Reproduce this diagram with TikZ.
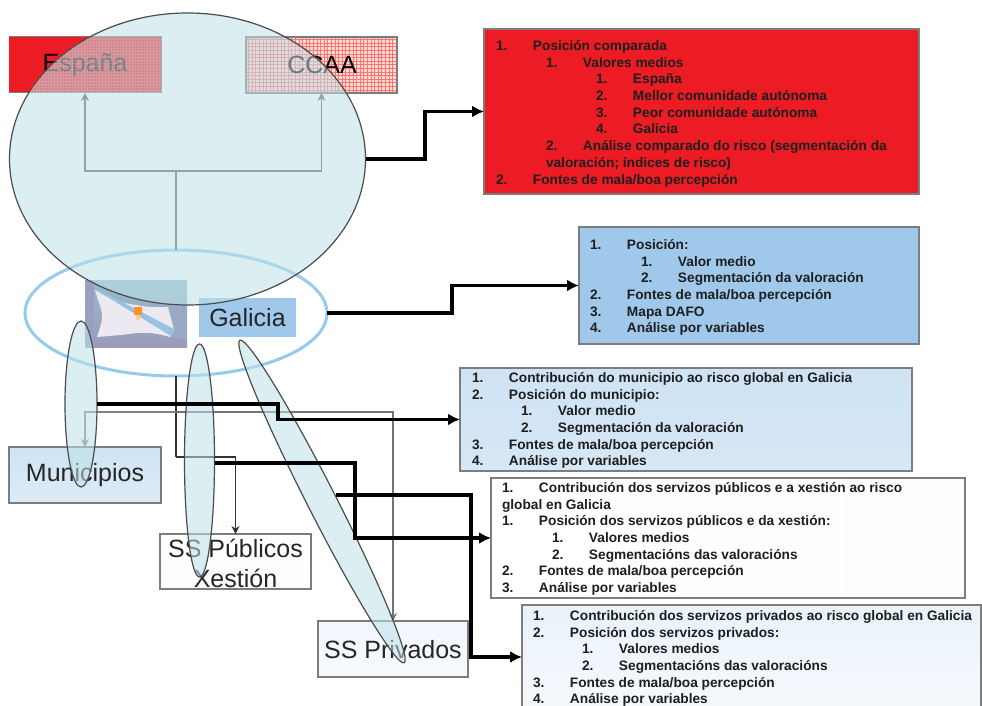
\documentclass[tikz,border=0pt]{standalone}
\usepackage{fontspec}
\setmainfont{Liberation Sans}
\usetikzlibrary{shapes.geometric,arrows.meta}
\definecolor{boxred}{RGB}{237,28,36}
\definecolor{boxblue}{RGB}{160,200,234}
\definecolor{paleblue}{RGB}{207,227,244}
\definecolor{edgegrey}{RGB}{125,125,125}
\definecolor{ringblue}{RGB}{150,203,236}
\definecolor{veil}{RGB}{190,226,233}
\definecolor{inktext}{RGB}{30,30,30}
\definecolor{pinkbox}{RGB}{253,222,212}
\definecolor{flagtop}{RGB}{150,188,205}
\definecolor{flagbottom}{RGB}{155,155,185}
\definecolor{flagband}{RGB}{155,160,190}
\definecolor{flagwhite}{RGB}{236,233,241}
\definecolor{flagstripe}{RGB}{150,195,225}
\newcommand{\itm}[3]{\hspace*{#1pt}\makebox[37pt][l]{#2}#3\strut}
\newcommand{\wrp}[2]{\hspace*{#1pt}#2\strut}
\tikzset{
  boxshape/.style={rectangle,draw=edgegrey,line width=1.4pt,inner sep=0pt,outer sep=0pt,anchor=north west},
  bigtext/.style={text=black!85,font=\fontsize{25}{30}\selectfont,align=center},
  listtext/.style={anchor=north west,inner sep=0pt,outer sep=0pt,align=left,text=inktext,font=\fontsize{13.7}{16.7}\selectfont\bfseries},
  veilshape/.style={ellipse,draw=black!70,line width=1.2pt,fill=veil,fill opacity=.55,inner sep=0pt,outer sep=0pt},
  thinline/.style={line width=1.8pt,draw=black!65,-{Stealth[length=8pt,width=8pt]}},
  thickline/.style={line width=3.6pt,draw=black,-{Latex[length=12pt,width=12pt]}}
}
\begin{document}
\begin{tikzpicture}[x=1pt,y=-1pt]
\useasboundingbox (0,0) rectangle (982,706);
\clip (0,0) rectangle (982,706);
\fill[white] (0,0) rectangle (982,706);

% upper boxes
\node[boxshape,fill=boxred,draw=none,minimum width=152pt,minimum height=56pt] (es) at (9,37) {};
\draw[edgegrey,line width=1pt] (9,37) -- (161,37) -- (161,93) -- (9,93);
\node[boxshape,fill=pinkbox,minimum width=151pt,minimum height=56pt] (cc) at (246,37) {};
\draw[red!55!white,line width=.6pt,step=3.6pt] (246,37) grid (397,93);
\draw[edgegrey,line width=1.2pt] (246,37) rectangle (397,93);
\node[bigtext,text=black] (estxt) at (85,65) {España};
\node[bigtext,text=black] (cctxt) at (322,65) {CCAA};

% list boxes
\node[boxshape,fill=boxred,minimum width=435pt,minimum height=165pt] (redbox) at (484,29) {};
\node[boxshape,fill=boxblue,minimum width=340pt,minimum height=117pt] (bluebox) at (579,227) {};
\node[boxshape,top color=paleblue,bottom color=paleblue!85!white,minimum width=452pt,minimum height=103pt] (munbox) at (460,368) {};
\node[boxshape,left color=white,right color=white!93!paleblue,minimum width=474pt,minimum height=120pt] (pubbox) at (491,478) {};
\node[boxshape,top color=paleblue!45!white,bottom color=paleblue!20!white,minimum width=459pt,minimum height=104pt] (privbox) at (522,605) {};

\node[listtext] (redtxt) at (496,38.8) {%
\itm{0}{1.}{Posición comparada}\\
\itm{50}{1.}{Valores medios}\\
\itm{100}{1.}{España}\\
\itm{100}{2.}{Mellor comunidade autónoma}\\
\itm{100}{3.}{Peor comunidade autónoma}\\
\itm{100}{4.}{Galicia}\\
\itm{50}{2.}{Análise comparado do risco (segmentación da}\\
\wrp{50}{valoración; índices de risco)}\\
\itm{0}{2.}{Fontes de mala/boa percepción}};

\node[listtext] (bluetxt) at (590,237.8) {%
\itm{0}{1.}{Posición:}\\
\itm{51}{1.}{Valor medio}\\
\itm{51}{2.}{Segmentación da valoración}\\
\itm{0}{2.}{Fontes de mala/boa percepción}\\
\itm{0}{3.}{Mapa DAFO}\\
\itm{0}{4.}{Análise por variables}};

\node[listtext] (muntxt) at (472,370.8) {%
\itm{0}{1.}{Contribución do municipio ao risco global en Galicia}\\
\itm{0}{2.}{Posición do municipio:}\\
\itm{49}{1.}{Valor medio}\\
\itm{49}{2.}{Segmentación da valoración}\\
\itm{0}{3.}{Fontes de mala/boa percepción}\\
\itm{0}{4.}{Análise por variables}};

\node[listtext] (pubtxt) at (502,480.8) {%
\itm{0}{1.}{Contribución dos servizos públicos e a xestión ao risco}\\
\wrp{0}{global en Galicia}\\
\itm{0}{1.}{Posición dos servizos públicos e da xestión:}\\
\itm{50}{1.}{Valores medios}\\
\itm{50}{2.}{Segmentacións das valoracións}\\
\itm{0}{2.}{Fontes de mala/boa percepción}\\
\itm{0}{3.}{Análise por variables}};

\node[listtext] (privtxt) at (533,608.8) {%
\itm{0}{1.}{Contribución dos servizos privados ao risco global en Galicia}\\
\itm{0}{2.}{Posición dos servizos privados:}\\
\itm{49}{1.}{Valores medios}\\
\itm{49}{2.}{Segmentacións das valoracións}\\
\itm{0}{3.}{Fontes de mala/boa percepción}\\
\itm{0}{4.}{Análise por variables}};

% flag
\node[boxshape,draw=none,top color=flagtop,bottom color=flagbottom,minimum width=102pt,minimum height=67pt] (flag) at (85,280) {};
\fill[flagband] (85,280) rectangle (94,347);
\fill[flagband!60!flagtop] (168,307) rectangle (187,338);
\fill[flagwhite] (95,290) .. controls (112,300) and (125,304) .. (137,305) .. controls (150,308) and (160,307) .. (168,307) .. controls (170,315) and (172,322) .. (174,330) -- (170,337) .. controls (160,334) and (148,332) .. (137,333) .. controls (122,335) and (110,336) .. (97,337) .. controls (101,325) and (103,318) .. (102,313) .. controls (100,305) and (97,297) .. (95,290) -- cycle;
\fill[flagstripe] (96,290) -- (103,292) -- (174,329) -- (171,336) -- cycle;
\fill[orange!85!white] (134,307) rectangle (142,315);
\fill[orange!40!white] (136,315) rectangle (140,320);

% Galicia label
\node[rectangle,fill=boxblue,inner sep=0pt,outer sep=0pt,minimum width=97pt,minimum height=39pt,text=black!85,font=\fontsize{25}{30}\selectfont] (gal) at (247.5,317.5) {Galicia};
\node[ellipse,draw=ringblue,line width=3pt,inner sep=0pt,outer sep=0pt,minimum width=302pt,minimum height=126pt] (galring) at (176,313) {};

% lower boxes
\node[boxshape,top color=paleblue,bottom color=paleblue!70!white,minimum width=152pt,minimum height=56pt] (mun) at (9,447) {};
\node[bigtext] (muntext) at (85,475) {Municipios};
\node[boxshape,top color=white,bottom color=paleblue!10!white,minimum width=151pt,minimum height=55pt] (pub) at (160,534) {};
\node[bigtext] (pubtext) at (235.5,563) {SS Públicos\\Xestión};
\node[boxshape,top color=paleblue!30!white,bottom color=paleblue!15!white,minimum width=150pt,minimum height=56pt] (priv) at (318,621) {};
\node[bigtext] (privtext) at (393,650) {SS Privados};

% named bends
\coordinate (splitup) at (176,171);
\coordinate (bendred) at (425,135);
\coordinate (bendblue) at (452,300);
\coordinate (bendpub) at (176,457);
\coordinate (greyrun) at (176,412);
\coordinate (bendmun) at (278,412);
\coordinate (bendpubthick) at (355,500);
\coordinate (bendprivthick) at (471,580);
\coordinate (startpriv) at (336,495);

% thin connectors
\draw[thinline,-] (galring.north) -- (splitup);
\draw[thinline] (splitup) -| (es.south);
\draw[thinline] (splitup) -| (cc.south);
\draw[thinline,-,draw=black!80] (galring.south) -- (bendpub);
\draw[thinline,draw=black!80] (bendpub) -| (pub.north);
\draw[thinline,draw=black!50] (greyrun) -| (mun.north);
\draw[thinline,draw=black!55] (greyrun) -| (priv.north);

% translucent ellipses
\node[veilshape] (big) at (187.5,159) [minimum width=356pt,minimum height=292pt] {};
\node[veilshape] (elmun) at (81,404) [minimum width=32pt,minimum height=166pt] {};
\node[veilshape] (elpub) at (199.5,460.5) [minimum width=30pt,minimum height=233pt] {};
\node[veilshape,rotate=-63] (elpriv) at (322,501.5) [minimum width=362pt,minimum height=29pt] {};

\begin{scope}
\clip (187.5,159) ellipse [x radius=178pt,y radius=146pt];
\draw[white,opacity=.15,line width=.6pt,step=3pt] (9,37) grid (161,93);
\end{scope}

% thick connectors
\draw[thickline] (big.east) -| (bendred) |- (redbox.west);
\draw[thickline] (galring.east) -| (bendblue) |- (bluebox.west);
\draw[thickline] (elmun.east) -| (bendmun) |- (munbox.west);
\draw[thickline] ([yshift=-2.5pt]elpub.east) -| (bendpubthick) |- (pubbox.west);
\draw[thickline] (startpriv) -| (bendprivthick) |- (privbox.west);
\end{tikzpicture}
\end{document}
